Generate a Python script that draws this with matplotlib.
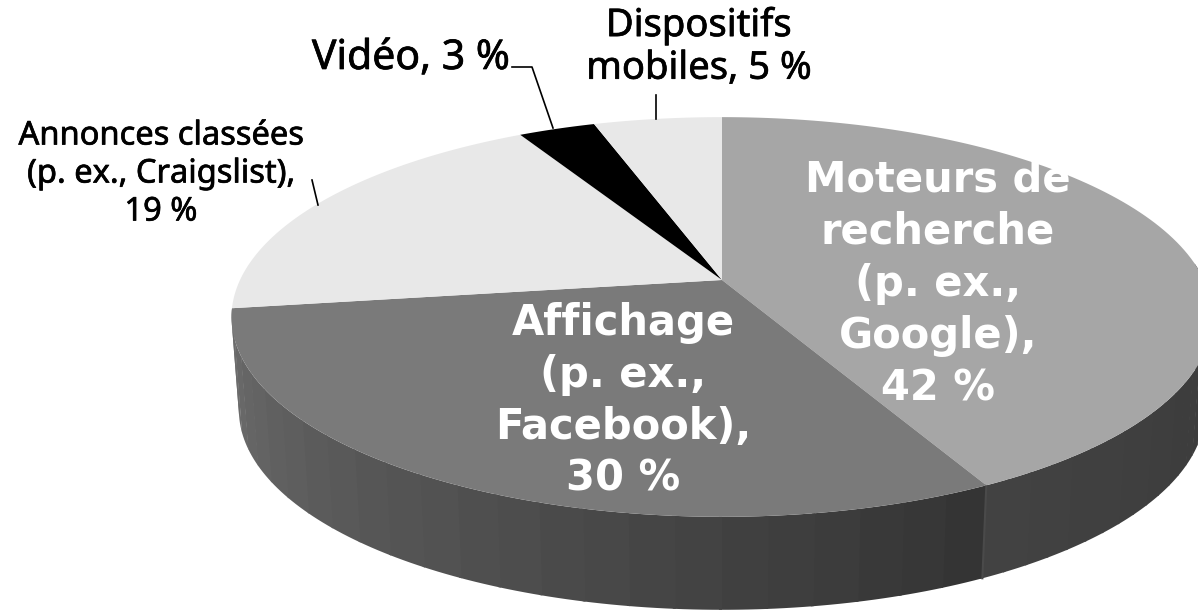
import numpy as np
import matplotlib
matplotlib.use('Agg')
import matplotlib.pyplot as plt
import matplotlib.patheffects as pe

labels = ['Moteurs de\nrecherche\n(p. ex.,\nGoogle),\n42 %',
          'Affichage\n(p. ex.,\nFacebook),\n30 %',
          'Annonces classées\n(p. ex., Craigslist),\n19 %',
          'Vidéo, 3 %',
          'Dispositifs\nmobiles, 5 %']
values = [42, 30, 19, 3, 5]
top_colors = ['#a6a6a6', '#7a7a7a', '#e8e8e8', '#000000', '#e8e8e8']

# centre du disque et perspective (pixels)
cx, cy = 722, 280
rx, ry = 482, 193
persp = 0.185
depth = 93


def project(theta, r=1.0, dy=0, shrink=1.0):
    # theta en degres, sens horaire depuis le haut
    t = np.radians(theta)
    x = r * np.sin(t)
    y = r * np.cos(t)
    w = 1 + persp * y
    return cx + shrink * rx * x / w, cy + dy - ry * y / w


def lerp_gray(a, b, f):
    g = a + (b - a) * f
    return (g, g, g)


edges = np.concatenate([[0], np.cumsum(values)]) / sum(values) * 360

fig = plt.figure(figsize=(11.98, 6.13), dpi=100)
ax = fig.add_axes([0, 0, 1, 1])
ax.set_xlim(0, 1198)
ax.set_ylim(613, 0)
ax.axis('off')

# cote du disque, par bandes
sides = [(85, edges[1], 0.22, 0.26), (edges[1], edges[2], 0.20, 0.43)]
for start, end, g0, g1 in sides:
    steps = 24
    for i in range(steps):
        a = start + (end - start) * i / steps
        b = start + (end - start) * (i + 1) / steps + 0.3
        th = np.linspace(a, b, 6)
        xt, yt = project(th)
        xb, yb = project(th, dy=depth, shrink=0.985)
        ax.fill(np.r_[xt, xb[::-1]], np.r_[yt, yb[::-1]],
                color=lerp_gray(g0, g1, (i + 0.5) / steps), lw=0, zorder=1)

# separation sur le cote entre Moteurs et Affichage
xt, yt = project(edges[1])
xb, yb = project(edges[1], dy=depth, shrink=0.985)
ax.plot([xt, xb], [yt, yb], color='#4a4a4a', lw=1.5, zorder=2)

# dessus du disque
for i, v in enumerate(values):
    th = np.linspace(edges[i], edges[i + 1], 120)
    x, y = project(th)
    ax.fill(np.r_[cx, x], np.r_[cy, y], color=top_colors[i], lw=0, zorder=3)

# etiquettes sur le disque
ax.text(938, 284, labels[0], color='white', fontsize=30, fontweight='bold', ha='center', va='center',
        linespacing=1.31, zorder=5)
ax.text(623, 401, labels[1], color='white', fontsize=30, fontweight='bold', ha='center', va='center',
        linespacing=1.3, zorder=5)

# etiquettes exterieures
heavy = [pe.withStroke(linewidth=0.5, foreground='black')]
ax.text(161, 174, labels[2], color='black', fontsize=23.5, family='Noto Sans', ha='center', va='center',
        linespacing=1.2, zorder=5, path_effects=heavy)
ax.text(411, 58, labels[3], color='black', fontsize=29.5, family='Noto Sans', ha='center', va='center', zorder=5,
        path_effects=heavy)
ax.text(699, 47, labels[4], color='black', fontsize=27.5, family='Noto Sans', ha='center', va='center',
        linespacing=1.16, zorder=5, path_effects=heavy)

# lignes de rappel
ax.plot([512, 532, 553], [67, 67, 128], color='black', lw=1.2, zorder=4)
ax.plot([312, 318], [180, 205], color='black', lw=1.2, zorder=4)
ax.plot([656, 656], [95, 119], color='black', lw=1.2, zorder=4)

fig.savefig('out.png', dpi=100)
